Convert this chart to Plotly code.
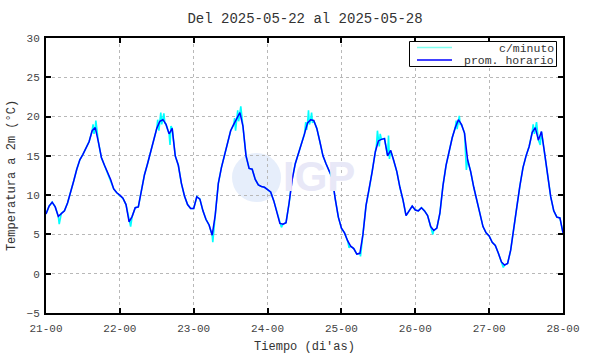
import plotly.graph_objects as go

# Hourly temperature (prom. horario), hours from 21-00
hourly_vals = [
    7.6, 8.6, 9.1, 8.5, 7.3, 7.7, 8.0, 9.0, 10.3, 11.8,
    13.3, 14.5, 15.2, 16.0, 16.8, 18.2, 18.6, 16.8, 14.8, 13.8,
    12.9, 12.0, 10.8, 10.3, 10.0, 9.6, 8.8, 6.6, 7.3, 8.4,
    8.5, 10.5, 12.6, 14.0, 15.4, 17.0, 18.5, 19.4, 19.6, 19.0,
    17.8, 18.5, 15.0, 13.8, 11.5, 9.9, 8.8, 8.3, 8.3, 9.8,
    9.5, 8.0, 6.9, 6.2, 4.9, 7.5, 11.5, 13.5, 15.0, 16.5,
    18.2, 19.0, 19.8, 20.5, 18.8, 15.0, 13.4, 13.3, 12.0, 11.3,
    11.1, 11.0, 10.7, 10.4, 9.3, 7.8, 6.4, 6.3, 6.5, 9.0,
    12.0, 14.0, 15.2, 16.3, 17.8, 19.2, 19.6, 19.5, 18.5, 16.8,
    15.0, 14.0, 13.1, 12.2, 9.5, 7.2, 5.8, 5.2, 4.2, 3.5,
    3.2, 2.5, 2.6, 5.0, 8.7, 10.7, 13.0, 15.5, 16.9, 17.1,
    17.2, 15.0, 15.7, 14.4, 13.0, 11.0, 9.4, 7.4, 8.0, 8.6,
    8.1, 8.0, 8.4, 8.0, 7.4, 6.0, 5.5, 5.8, 7.7, 11.2,
    13.8, 15.8, 17.3, 18.6, 19.6, 19.0, 17.9, 14.5, 13.0, 11.0,
    9.2, 7.5, 6.0, 5.2, 4.8, 4.0, 3.6, 2.6, 1.5, 1.1,
    1.3, 3.0, 5.5, 8.5, 11.2, 13.5, 15.0, 16.2, 18.0, 18.6,
    17.0, 18.1, 15.4, 12.5, 9.8, 8.0, 7.2, 7.1, 5.2,
]
hourly_t = list(range(len(hourly_vals)))

# Extra per-minute readings (spikes) visible in the c/minuto series
minute_t = [15.3, 15.6, 16.2, 16.5, 36.3, 36.7, 37.3, 37.6, 38.3, 38.6, 40.3, 40.6,
            61.3, 61.6, 62.3, 62.6, 63.3, 63.6, 64.7, 84.4, 84.7, 85.3, 85.6, 86.3, 86.6,
            107.4, 107.7, 108.3, 108.6, 111.3, 111.6, 133.3, 133.6, 134.3, 134.6, 136.6,
            158.3, 158.7, 159.4, 160.6, 4.3, 27.5, 54.2, 76.5, 125.7, 148.6, 98.5, 102.2]
minute_v = [19.0, 17.8, 19.5, 18.2, 19.6, 18.2, 20.5, 19.0, 20.4, 19.2, 16.4, 18.8,
            19.8, 18.2, 20.8, 19.4, 21.3, 20.2, 15.8, 19.3, 18.3, 20.8, 19.0, 20.5, 19.2,
            16.4, 18.2, 16.2, 17.8, 17.6, 14.6, 19.5, 18.4, 20.1, 19.0, 13.2,
            19.0, 17.8, 19.3, 16.4, 6.3, 6.0, 4.0, 5.9, 5.0, 0.8, 3.3, 2.2]

tick_labels = ["21-00", "22-00", "23-00", "24-00", "25-00", "26-00", "27-00", "28-00"]
tick_hours = [0, 24, 48, 72, 96, 120, 144, 168]
y_ticks = [-5, 0, 5, 10, 15, 20, 25, 30]
legend_names = ["c/minuto", "prom. horario"]

pairs = sorted(list(zip(hourly_t, hourly_vals)) + list(zip(minute_t, minute_v)))
cyan_t = [p[0] for p in pairs]
cyan_v = [p[1] for p in pairs]

FONT = "Liberation Mono, Courier New, monospace"
L, R, T, B = 46, 563, 38, 313
W, H = R - L, B - T


def px(x):
    return (x - L) / W


def py(y):
    return (B - y) / H


fig = go.Figure()
fig.add_trace(go.Scatter(x=cyan_t, y=cyan_v, mode="lines", name=legend_names[0],
                         line=dict(color="#00ffff", width=1.6), showlegend=False))
fig.add_trace(go.Scatter(x=hourly_t, y=hourly_vals, mode="lines", name=legend_names[1],
                         line=dict(color="#0000ff", width=1.5), showlegend=False))

# IGP watermark
fig.add_shape(type="circle", xref="paper", yref="paper", layer="below",
              x0=px(232), x1=px(281), y0=py(202), y1=py(153),
              fillcolor="#e6eefb", line=dict(width=0))
fig.add_annotation(text="<b>IGP</b>", xref="paper", yref="paper",
                   x=px(319), y=py(177), showarrow=False,
                   font=dict(family="Liberation Sans, Arial", size=42, color="#e8e8f7"))

# Legend box (drawn like the original key)
fig.add_shape(type="rect", xref="paper", yref="paper", x0=px(409.5), x1=px(556.5),
              y0=py(66.5), y1=py(41.5), fillcolor="white", line=dict(color="black", width=1))
fig.add_shape(type="line", xref="paper", yref="paper", x0=px(417), x1=px(452),
              y0=py(47.5), y1=py(47.5), line=dict(color="#80fff0", width=1.3))
fig.add_shape(type="line", xref="paper", yref="paper", x0=px(417), x1=px(452),
              y0=py(60), y1=py(60), line=dict(color="#0000ff", width=1.5))
for name, yy in zip(legend_names, [47.5, 60]):
    fig.add_annotation(text=name, xref="paper", yref="paper", x=px(555), y=py(yy),
                       xanchor="right", yanchor="middle", showarrow=False,
                       borderpad=0, height=12,
                       font=dict(family=FONT, size=11.5, color="#333333"))

fig.update_layout(
    width=590, height=354,
    margin=dict(l=L, r=590 - R, t=T, b=354 - B),
    paper_bgcolor="white", plot_bgcolor="white",
    title=dict(text="Del 2025-05-22 al 2025-05-28", x=0.517, xanchor="center",
               y=1 - 18 / 354, yanchor="middle",
               font=dict(family=FONT, size=14, color="#333333")),
    font=dict(family=FONT, size=11, color="#444444"),
    showlegend=False,
)
fig.update_xaxes(range=[0, 168], tickvals=tick_hours, ticktext=tick_labels,
                 showline=True, linecolor="black", linewidth=2, mirror="ticks",
                 ticks="inside", ticklen=5, tickwidth=2, tickcolor="black",
                 showgrid=True, gridcolor="#b8b8b8", griddash="dot", gridwidth=1,
                 zeroline=False, automargin=False, ticklabelstandoff=4,
                 title=dict(text="Tiempo (di'as)", standoff=8,
                            font=dict(family=FONT, size=12, color="#333333")),
                 tickfont=dict(family=FONT, size=11, color="#444444"))
fig.update_yaxes(range=[-5, 30], tickvals=y_ticks,
                 showline=True, linecolor="black", linewidth=2, mirror="ticks",
                 ticks="inside", ticklen=5, tickwidth=2, tickcolor="black",
                 showgrid=True, gridcolor="#b8b8b8", griddash="dot", gridwidth=1,
                 zeroline=False, automargin=False, ticklabelstandoff=2,
                 title=dict(text="Temperatura a 2m (°C)", standoff=8,
                            font=dict(family=FONT, size=12, color="#333333")),
                 tickfont=dict(family=FONT, size=11, color="#444444"))

fig.write_html("out.html")
